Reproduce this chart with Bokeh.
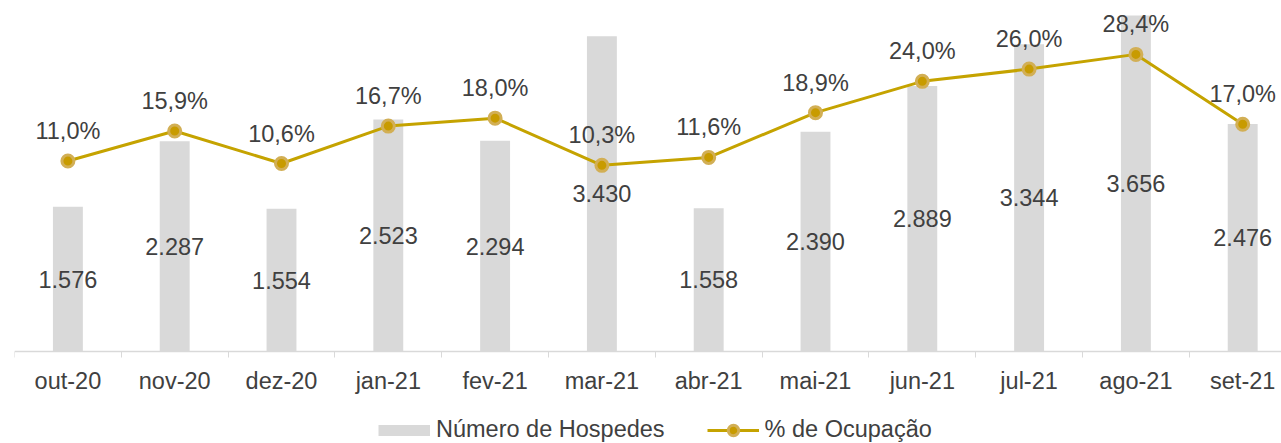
from bokeh.plotting import figure
from bokeh.models import (Range1d, FixedTicker, LabelSet, ColumnDataSource,
                          Legend, LegendItem)
from bokeh.core.properties import value
from bokeh.embed import file_html
from bokeh.resources import INLINE

months = ["out-20", "nov-20", "dez-20", "jan-21", "fev-21", "mar-21",
          "abr-21", "mai-21", "jun-21", "jul-21", "ago-21", "set-21"]
hospedes = [1576, 2287, 1554, 2523, 2294, 3430, 1558, 2390, 2889, 3344, 3656, 2476]
ocupacao = [11.0, 15.9, 10.6, 16.7, 18.0, 10.3, 11.6, 18.9, 24.0, 26.0, 28.4, 17.0]

FONT = "Liberation Sans"
TXT = "#404040"
FS = "23.5px"

xs = [i + 0.5 for i in range(len(months))]
src = ColumnDataSource(dict(
    x=xs, h=hospedes, hmid=[v / 2 for v in hospedes], o=ocupacao,
    hlab=[f"{v:,}".replace(",", ".") for v in hospedes],
    olab=[f"{v:.1f}%".replace(".", ",") for v in ocupacao],
))

p = figure(width=1281, height=443, output_backend="svg", toolbar_location=None,
           title=None, y_axis_location=None,
           x_range=Range1d(0, 1267 / 106.8), y_range=Range1d(-1001, 3819),
           min_border_left=14, min_border_right=0, min_border_top=0,
           min_border_bottom=0)
p.extra_y_ranges = {"pct": Range1d(-35.07, 37.19)}
p.outline_line_color = None
p.xgrid.visible = False
p.ygrid.visible = False

bars = p.vbar(x="x", top="h", width=0.28, source=src, fill_color="#D9D9D9",
              line_color=None)
ln = p.line(x="x", y="o", source=src, y_range_name="pct", line_color="#C5A300",
            line_width=3)
mk = p.scatter(x="x", y="o", source=src, y_range_name="pct", size=12,
               fill_color="#C89B00", line_color="#D2AF55", line_width=3)

p.add_layout(LabelSet(x="x", y="hmid", text="hlab", source=src,
                      text_align="center", text_baseline="middle",
                      text_font=value(FONT), text_font_size=value(FS),
                      text_color=TXT))
p.add_layout(LabelSet(x="x", y="o", text="olab", source=src, y_range_name="pct",
                      y_offset=30, text_align="center", text_baseline="middle",
                      text_font=value(FONT), text_font_size=value(FS),
                      text_color=TXT))

ax = p.xaxis[0]
ax.fixed_location = 0
ax.ticker = FixedTicker(ticks=xs, minor_ticks=list(range(len(months) + 1)))
ax.major_label_overrides = {x: m for x, m in zip(xs, months)}
ax.major_tick_out = 0
ax.major_tick_in = 0
ax.minor_tick_out = 6
ax.minor_tick_in = 0
ax.minor_tick_line_color = "#D9D9D9"
ax.axis_line_color = "#D9D9D9"
ax.axis_line_width = 1.5
ax.major_label_standoff = 11
ax.major_label_text_font = FONT
ax.major_label_text_font_size = FS
ax.major_label_text_color = TXT

# legend swatch for the bars: a one-point line draws nothing in the plot
proxy_src = ColumnDataSource(dict(x=xs[:1], y=[0]))
proxy = p.line(x="x", y="y", source=proxy_src, line_color="#D9D9D9",
               line_width=11, line_cap="butt")
legend = Legend(items=[LegendItem(label="Número de Hospedes", renderers=[proxy]),
                       LegendItem(label="% de Ocupação", renderers=[ln, mk])],
                orientation="horizontal", location=(364, 0),
                glyph_width=52, glyph_height=26, label_standoff=6, spacing=42,
                padding=0, margin=0, border_line_color=None,
                background_fill_alpha=0, label_text_font=FONT,
                label_text_font_size=FS, label_text_color=TXT)
p.add_layout(legend, "center")

open("out.html", "w").write(file_html(p, INLINE))
